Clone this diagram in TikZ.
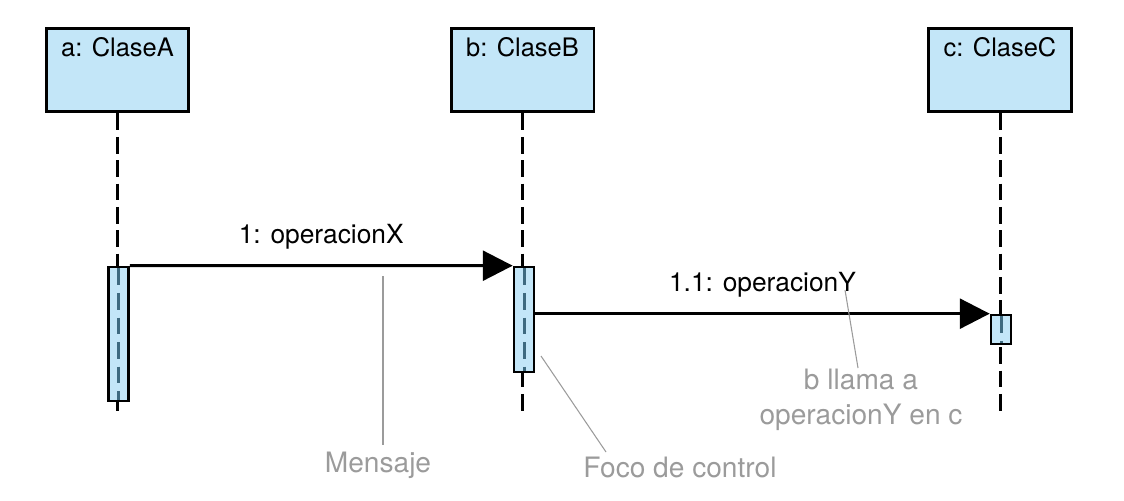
\documentclass[tikz,border=0pt]{standalone}
\usepackage{fontspec}
\setmainfont{TeX Gyre Heros}
\usetikzlibrary{arrows.meta,positioning}
\definecolor{claseazul}{HTML}{C3E6F8}
\definecolor{lineavida}{HTML}{3E6A80}
\definecolor{grisnota}{HTML}{9B9B9B}
\tikzset{
  objeto/.style={draw, line width=1.7pt, fill=claseazul, minimum width=2.86cm, minimum height=1.68cm, inner sep=0pt},
  nombre/.style={font=\fontsize{14.5}{17}\selectfont},
  etiqueta/.style={font=\fontsize{15}{18}\selectfont},
  activa/.style={draw, line width=1.5pt, fill=claseazul, minimum width=0.4cm, inner sep=0pt},
  vida/.style={line width=1.7pt, dash pattern=on 9.5pt off 3.8pt},
  vidainterna/.style={lineavida, line width=1.7pt, dash pattern=on 9.5pt off 4.5pt, shorten >=1.5pt, shorten <=1.5pt},
  mensaje/.style={line width=1.7pt, -{Triangle[length=17pt,width=17pt]}},
  nota/.style={grisnota, line width=0.6pt},
  textonota/.style={grisnota, font=\fontsize{16}{20}\selectfont, align=center}
}
\begin{document}
\begin{tikzpicture}[x=0.02cm, y=-0.02cm]
    \useasboundingbox (0,0) rectangle (1124,500);
    %objetos
    \node[objeto] (a) at (117.5,70) {};
    \node[objeto] (b) at (522.5,70) {};
    \node[objeto] (c) at (1000,70) {};
    \node[nombre] (ta) at ([yshift=-0.42cm]a.north) {a: ClaseA};
    \node[nombre] (tb) at ([yshift=-0.42cm]b.north) {b: ClaseB};
    \node[nombre] (tc) at ([yshift=-0.42cm]c.north) {c: ClaseC};
    %lineas de vida
    \coordinate (finA) at (117,411);
    \coordinate (finB) at (522,411);
    \coordinate (finC) at (1000,411);
    \draw[vida] (a.south) -- (a.south |- finA);
    \draw[vida] (b.south) -- (b.south |- finB);
    \draw[vida] (c.south) -- (c.south |- finC);
    %focos de control
    \node[activa, minimum height=2.68cm] (actA) at (118.5,334) {};
    \node[activa, minimum height=2.1cm] (actB) at (524,319.5) {};
    \node[activa, minimum height=0.58cm] (actC) at (1001,329.5) {};
    \draw[vidainterna] (actA.north) -- (actA.south);
    \draw[vidainterna] (actB.north) -- (actB.south);
    \draw[vidainterna] (actC.north) -- (actC.south);
    %mensajes
    \draw[mensaje] (actA.north east) -- node[etiqueta, above=5pt] (m1) {1: operacionX} (actB.north west);
    \draw[mensaje] (actB.east |- actC.north) -- node[etiqueta, above=5pt] (m2) {1.1: operacionY} (actC.north west);
    %notas
    \node[textonota] (nMensaje) at (378,465) {Mensaje};
    \node[textonota] (nFoco) at (680,467) {Foco de control};
    \node[textonota] (nLlama) at (861,400) {b llama a\\operacionY en c};
    \coordinate (pMensaje) at (383,276);
    \coordinate (pFoco) at (541,356);
    \coordinate (qFoco) at (606,452);
    \coordinate (pLlama) at (845,290);
    \coordinate (qLlama) at (858,368);
    \draw[nota] (pMensaje) -- (pMensaje |- nMensaje.north);
    \draw[nota] (pFoco) -- (qFoco);
    \draw[nota] (pLlama) -- (qLlama);
\end{tikzpicture}
\end{document}
